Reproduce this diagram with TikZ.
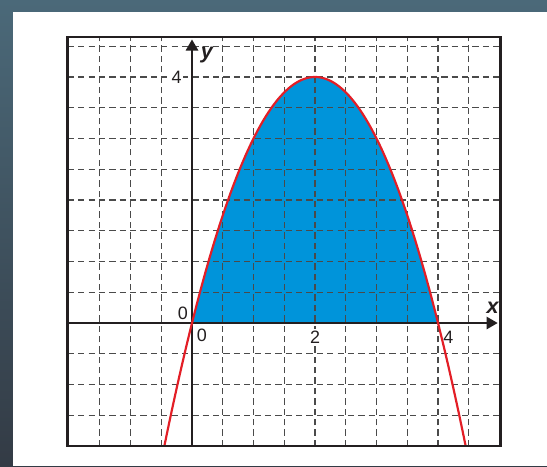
\documentclass[tikz,border=0pt]{standalone}
\usepackage{fontspec}
\setmainfont{Liberation Sans}
\usetikzlibrary{arrows.meta}
\definecolor{bgtop}{HTML}{4B6979}
\definecolor{bgbot}{HTML}{333B45}
\definecolor{areablue}{HTML}{0094DA}
\definecolor{curvered}{HTML}{E31E26}
\definecolor{gridgray}{HTML}{4A4A4A}
\definecolor{framek}{HTML}{231F20}
\tikzset{
  gridline/.style={gridgray, line width=0.6pt, dash pattern=on 2.9pt off 1.9pt},
  axisline/.style={framek, line width=0.9pt, -{Triangle[length=0.18cm,width=0.2cm]}},
  framebox/.style={framek, line width=1.3pt},
  numlabel/.style={font=\fontsize{8.3}{10}\selectfont, inner sep=0.8pt, fill=white, text=framek},
  varlabel/.style={font=\fontsize{10}{12}\selectfont\bfseries\itshape, inner sep=0pt, text=framek},
  curve/.style={curvered, line width=1pt}
}
\begin{document}
\begin{tikzpicture}
\useasboundingbox (-3.122,-2.325) rectangle (5.772,5.252);
% background
\shade[top color=bgtop, bottom color=bgbot] (-3.122,-2.325) rectangle (5.772,5.252);
\fill[white] (-2.911,-2.325) rectangle (5.772,5.049);
% area
\fill[areablue] (0,0) -- plot[domain=0:4, samples=100] (\x,{4*\x-\x*\x}) -- cycle;
% grid
\foreach \gx in {-1.5,-1,-0.5,0.5,1,1.5,2,2.5,3,3.5,4,4.5}
  \draw[gridline] (\gx,-2.0) -- (\gx,4.65);
\foreach \gy in {-2,-1.5,-1,-0.5,0.5,1,1.5,2,2.5,3,3.5,4,4.5}
  \draw[gridline] (-2.02,\gy) -- (5.02,\gy);
% labels (white background hides the grid behind them)
\node[numlabel] (l4y) at (-0.25,4.0) {4};
\node[numlabel] (l0a) at (-0.15,0.165) {0};
\node[numlabel] (l0b) at (0.16,-0.2) {0};
\node[numlabel] (l2) at (2.0,-0.225) {2};
\node[numlabel] (l4x) at (4.17,-0.225) {4};
% axes
\coordinate (fl) at (-2.02,0);
\coordinate (fb) at (0,-2.0);
\coordinate (xt) at (4.97,0);
\coordinate (yt) at (0,4.61);
\draw[axisline] (fl) -- (xt);
\draw[axisline] (fb) -- (yt);
% curve
\draw[curve] plot[domain=-0.449:4.449, samples=120] (\x,{4*\x-\x*\x});
% frame
\draw[framebox] (-2.02,-2.0) rectangle (5.02,4.65);
% variable labels
\node[varlabel] (ly) at (0.24,4.36) {y};
\node[varlabel] (lx) at (4.886,0.255) {x};
\end{tikzpicture}
\end{document}
